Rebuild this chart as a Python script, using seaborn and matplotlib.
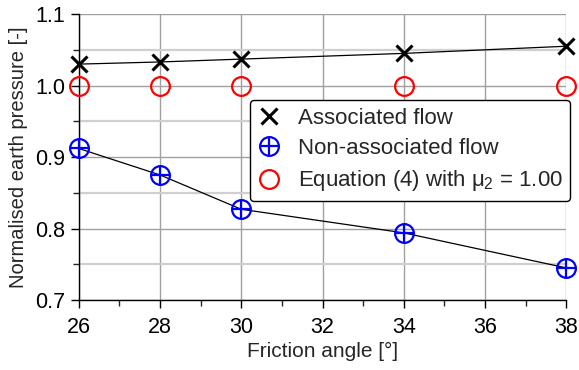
import numpy as np
import pandas as pd
import matplotlib
matplotlib.use('Agg')
import matplotlib.pyplot as plt
import seaborn as sns
from matplotlib.lines import Line2D
from matplotlib.ticker import MultipleLocator
from matplotlib.legend_handler import HandlerTuple

# values
friction_angle = [26, 28, 30, 34, 38]
associated = [1.030, 1.033, 1.037, 1.045, 1.055]
non_associated = [0.912, 0.875, 0.827, 0.794, 0.745]
equation4 = [1.0, 1.0, 1.0, 1.0, 1.0]

df = pd.DataFrame({'phi': friction_angle, 'assoc': associated,
                   'nonassoc': non_associated, 'eq4': equation4})

sns.set_style('white')
plt.rcParams['font.family'] = ['Liberation Sans', 'DejaVu Sans']
plt.rcParams['mathtext.fontset'] = 'custom'
plt.rcParams['mathtext.rm'] = 'Liberation Sans'
plt.rcParams['mathtext.it'] = 'Liberation Sans'

fig = plt.figure(figsize=(5.79, 3.70), dpi=100)
ax = fig.add_axes([0.136, 0.189, 0.842, 0.773])

ms = 13.5
# lines
sns.lineplot(data=df, x='phi', y='assoc', ax=ax, color='black', lw=0.9)
sns.lineplot(data=df, x='phi', y='nonassoc', ax=ax, color='black', lw=0.9)

# markers
ax.plot(df['phi'], df['assoc'], ls='none', marker='x', ms=11, mew=2.2,
        color='black', clip_on=False, zorder=5)
ax.plot(df['phi'], df['nonassoc'], ls='none', marker='o', ms=ms, mew=1.6,
        mfc='none', mec='blue', clip_on=False, zorder=5)
ax.plot(df['phi'], df['nonassoc'], ls='none', marker='+', ms=ms, mew=1.6,
        color='blue', clip_on=False, zorder=5)
ax.plot(df['phi'], df['eq4'], ls='none', marker='o', ms=ms, mew=1.6,
        mfc='none', mec='red', clip_on=False, zorder=5)

ax.set_xlim(26, 38)
ax.set_ylim(0.7, 1.1)
ax.xaxis.set_major_locator(MultipleLocator(2))
ax.xaxis.set_minor_locator(MultipleLocator(1))
ax.yaxis.set_major_locator(MultipleLocator(0.1))
ax.yaxis.set_minor_locator(MultipleLocator(0.05))
ax.yaxis.set_major_formatter(matplotlib.ticker.FormatStrFormatter('%.1f'))

ax.grid(True, which='major', axis='both', color='#a0a0a0', lw=1.0)
ax.grid(True, which='minor', axis='y', color='#cfcfcf', lw=1.6)
ax.set_axisbelow(True)

for s in ['top', 'right']:
    ax.spines[s].set_visible(False)
for s in ['left', 'bottom']:
    ax.spines[s].set_color('black')
    ax.spines[s].set_linewidth(1.0)

ax.tick_params(which='major', direction='out', length=6, width=1,
               labelsize=15.5, colors='black', bottom=True, left=True)
ax.tick_params(which='minor', direction='out', length=4, width=1,
               bottom=True, left=True)
ax.tick_params(axis='x', pad=6)

ax.set_xlabel('Friction angle [°]', fontsize=15, labelpad=3)
ax.set_ylabel('Normalised earth pressure [-]', fontsize=14.5, labelpad=5)

h1 = Line2D([], [], ls='none', marker='x', ms=11, mew=2.2, color='black')
h2a = Line2D([], [], ls='none', marker='o', ms=ms, mew=1.6, mfc='none', mec='blue')
h2b = Line2D([], [], ls='none', marker='+', ms=ms, mew=1.6, color='blue')
h3 = Line2D([], [], ls='none', marker='o', ms=ms, mew=1.6, mfc='none', mec='red')
leg = ax.legend([h1, (h2a, h2b), h3],
                ['Associated flow', 'Non-associated flow',
                 r'Equation (4) with $\mu_2$ = 1.00'],
                handler_map={tuple: HandlerTuple(ndivide=1)},
                loc='upper left', bbox_to_anchor=(0.351, 0.70),
                borderaxespad=0,
                fontsize=16, frameon=True, fancybox=True, framealpha=1,
                edgecolor='black', handlelength=1.0, handletextpad=0.8,
                labelspacing=0.42, borderpad=0.35)
leg.get_frame().set_linewidth(1.0)

fig.savefig('out.png', dpi=100)
